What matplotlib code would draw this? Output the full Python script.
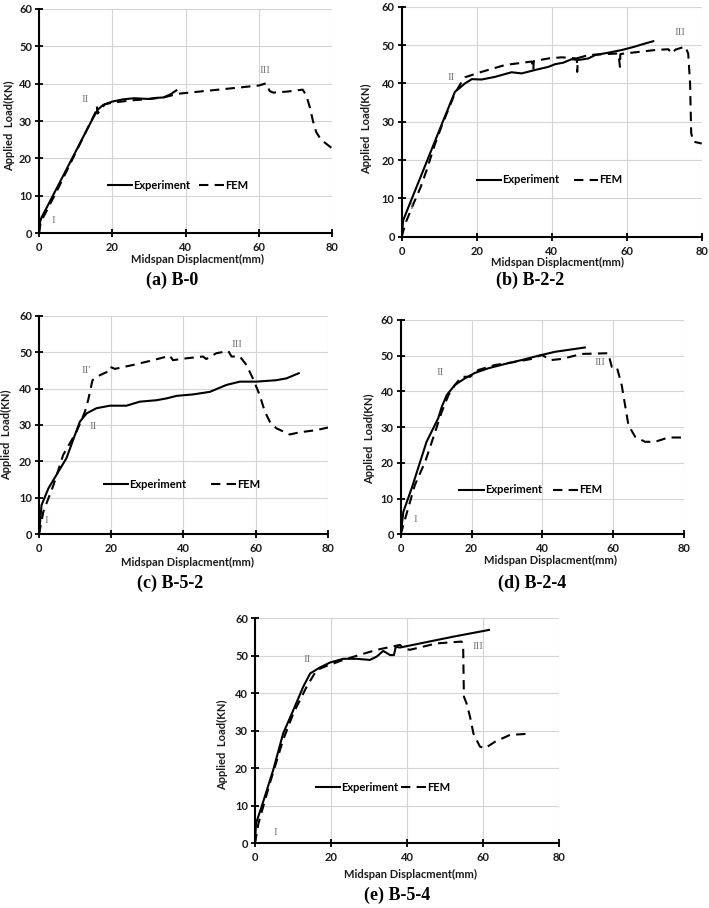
import matplotlib
matplotlib.use("Agg")
import matplotlib.pyplot as plt

# ---- data (mm, kN) ----
b0_exp_x = [0, 0.3, 0.7, 2, 4, 6, 8, 10, 12, 14, 16, 17.5, 20, 23, 26, 30, 32, 34, 36, 37.5]
b0_exp_y = [0, 3, 4.2, 6.6, 10.4, 14.2, 18, 21.8, 25.6, 29.4, 33, 34.3, 35.2, 35.8, 36.1, 35.9, 36.2, 36.3, 37.2, 38.2]
b0_fem_x = [0, 0.5, 2, 5, 10, 14, 15.5, 15.8, 16, 18, 20, 25, 30, 34, 38, 40, 50, 60, 62, 63, 64,
            68, 72, 73, 74, 74.8, 75.7, 77, 80]
b0_fem_y = [0, 3, 5.8, 11.5, 21.5, 29.5, 32.5, 34, 32, 34.5, 34.9, 35.5, 35.9, 36.3, 37.3, 37.5, 38.5, 39.5, 40.1, 38, 37.6,
            37.9, 38.4, 36.8, 33.5, 30, 27, 25, 22.7]

b22_exp_x = [0, 0.4, 2.2, 5, 8, 11, 14.2, 16.9, 18.7, 21.3, 24.9, 29.3, 32, 35.6, 39.1, 40.9, 43.1, 45.3, 47.1,
             49.8, 51.6, 55.1, 58.7, 62.2, 64.9, 67.1]
b22_exp_y = [0, 4.3, 8.7, 15.5, 22.8, 30.1, 37.8, 40, 41.1, 41, 41.7, 42.9, 42.6, 43.5, 44.3, 45, 45.4, 46.3, 46.1,
             46.5, 47.4, 48, 48.7, 49.6, 50.4, 51]
b22_fem_x = [0, 1, 3.1, 5, 6.7, 8, 9, 10.7, 14.2, 16, 16.9, 21.3, 27.6, 34.7, 35.1, 35.2, 39.1, 42.7, 46.7,
             46.8, 47, 49.8, 57.8, 58.2, 58.3, 58.7, 67.6, 71.1, 72, 73, 75.6, 76.4, 76.9, 77.2, 77.8, 80]
b22_fem_y = [0, 3.5, 8.5, 12.8, 17.5, 21.5, 24.5, 29, 37.4, 40.4, 41.6, 43, 44.8, 45.7, 43.5, 45.8, 46.5, 46.8, 46.5,
             43, 46.6, 47.4, 47.8, 44.3, 47.6, 47.7, 48.7, 48.9, 47.8, 48.8, 49.6, 47.8, 40, 27, 24.8, 24.3]

b52_exp_x = [0, 0.7, 2.6, 7.6, 11.3, 13.2, 15.9, 19.6, 24.2, 27.9, 32.5, 35.3, 38.1, 42.7, 47.3, 51.9, 55.6, 60.2,
             65.7, 68.5, 71.9]
b52_exp_y = [0, 8, 12.6, 20.9, 30.9, 33.2, 34.6, 35.3, 35.3, 36.4, 36.8, 37.3, 38, 38.4, 39.1, 41, 41.9, 41.9,
             42.3, 42.8, 44.2]
b52_fem_x = [0, 1.2, 4, 6.7, 10.4, 12.7, 13.6, 14.8, 16.9, 18.7, 19.6, 21, 26.1, 31.6, 36.2, 37.1, 40.8, 45.4, 46.3,
             49.1, 52.4, 53.3, 55.6, 57.4, 59.2, 61.1, 62.5, 63.9, 65.7, 69.4, 72.2, 76.8, 80]
b52_fem_y = [0, 6.2, 13.5, 21.8, 28.2, 33.6, 36.8, 42.3, 43.7, 44.5, 46, 45.4, 46.5, 47.8, 49, 47.8, 48.3, 48.8, 48.1,
             49.7, 50.3, 48.8, 48.8, 46.5, 42.8, 38.2, 33.7, 30.9, 29.1, 27.4, 28, 28.6, 29.3]

b24_exp_x = [0, 0.75, 3.1, 7.3, 10.6, 11.6, 13, 15.3, 18.2, 21, 24.8, 29.5, 34.2, 38.9, 43.6, 52]
b24_exp_y = [0, 6.3, 12.9, 25.9, 32.5, 35.7, 39, 41.8, 43.7, 45.2, 46.5, 47.7, 48.8, 50, 51.1, 52.3]
b24_fem_x = [0, 0.75, 4, 6.9, 8.8, 11.6, 13.5, 15.3, 17.2, 19.6, 21.9, 26.6, 31.3, 37, 39.8, 42.6, 45.5, 51.1, 58.6,
             59.6, 61, 62.4, 64.3, 66.2, 69, 71.8, 75.6, 79.8]
b24_fem_y = [0, 2.6, 13.8, 20.3, 25.9, 34.3, 39, 41.8, 44.1, 44.1, 46, 47.4, 48.1, 49.1, 50.2, 48.8, 49.1, 50.5, 50.7,
             46.9, 46.9, 41.8, 30.6, 27.3, 25.9, 25.9, 27.1, 27.1]

b54_exp_x = [0, 0.26, 1.75, 4.8, 7.4, 10.1, 12.7, 14.5, 17.1, 19.7, 23.2, 26.7, 30.2, 32, 33.7, 35.5, 36.5, 37,
             38.1, 43.4, 52.1, 61.5]
b54_exp_y = [0, 5.3, 9.8, 19.6, 29.3, 35.6, 41.8, 45.3, 46.9, 48.2, 49.2, 49.2, 48.9, 49.8, 51.3, 50.2, 50.2, 52.4,
             52.2, 53.3, 55.1, 56.9]
b54_fem_x = [0, 0.9, 3.9, 7.4, 10.1, 13.6, 16.2, 18.8, 23.2, 26.7, 32, 38.1, 39, 40.7, 47.7, 54.3, 54.7, 54.9, 55.6,
             56.5, 57.4, 59.1, 60.4, 63.1, 67, 71.8]
b54_fem_y = [0, 5.3, 16, 27.6, 34.7, 41.8, 46.2, 47.3, 48.9, 50, 51.6, 52.9, 52, 51.6, 53.3, 53.8, 52.9, 39.1, 37.3,
             33.8, 29.3, 25.8, 25.3, 27.1, 28.9, 29.2]

x_ticks = [0, 20, 40, 60, 80]
y_ticks = [0, 10, 20, 30, 40, 50, 60]

FIG_W, FIG_H = 709, 908
SANS = "Lato"
SERIF = "Liberation Serif"
FS = 8


def px_box(left, right, top, bottom):
    # pixel box of the plotting area -> figure fractions
    return [left / FIG_W, 1 - bottom / FIG_H, (right - left) / FIG_W, (bottom - top) / FIG_H]


def draw_panel(fig, box, exp, fem, marks, leg_xy, colspace, ylab_xy, xlab_xy, caption, cap_px):
    ax = fig.add_axes(box)
    ax.plot(exp[0], exp[1], color="black", lw=1.5, label="Experiment", zorder=3)
    ax.plot(fem[0], fem[1], color="black", lw=1.5, ls=(0, (4.5, 3)), label="FEM", zorder=3)

    ax.set_xlim(0, 80)
    ax.set_ylim(0, 60)
    ax.set_xticks(x_ticks)
    ax.set_yticks(y_ticks)
    ax.grid(True, color="#d4d4d4", lw=0.8, zorder=0)
    ax.set_axisbelow(True)
    for s in ["top", "right"]:
        ax.spines[s].set_visible(False)
    for s in ["left", "bottom"]:
        ax.spines[s].set_linewidth(1.5)
    ax.tick_params(direction="inout", length=6, width=1.3, labelsize=FS, colors="black")
    ax.tick_params(axis="x", pad=3.5)
    ax.tick_params(axis="y", pad=2)
    for lab in ax.get_xticklabels() + ax.get_yticklabels():
        lab.set_fontfamily(SANS)
        lab.set_fontweight("bold")
        lab.set_color("#1a1a1a")

    ax.text(ylab_xy[0], ylab_xy[1], "Applied  Load(KN)", rotation=90, transform=ax.transAxes,
            ha="center", va="center", fontsize=FS, fontweight="bold", family=SANS, color="#1a1a1a")
    ax.text(xlab_xy[0], xlab_xy[1], "Midspan Displacment(mm)", transform=ax.transAxes,
            ha="center", va="center", fontsize=FS, fontweight="bold", family=SANS, color="#1a1a1a")

    for txt, mx, my in marks:
        ax.text(mx, my, txt, ha="center", va="center", fontsize=8, family=SERIF, color="#7a7a7a")

    ax.legend(loc="center left", bbox_to_anchor=leg_xy, ncol=2, frameon=False, borderpad=0,
              borderaxespad=0, handlelength=2.2, handletextpad=0.1, columnspacing=colspace,
              prop={"family": SANS, "weight": "bold", "size": FS})

    fig.text(cap_px[0] / FIG_W, 1 - cap_px[1] / FIG_H, caption, ha="center", va="center",
             fontsize=13, fontweight="bold", family=SERIF)
    return ax


def main():
    fig = plt.figure(figsize=(FIG_W / 100, FIG_H / 100), dpi=100)

    draw_panel(fig, px_box(39, 332, 9, 233), (b0_exp_x, b0_exp_y), (b0_fem_x, b0_fem_y),
               [("I", 3.9, 3.3), ("II", 12.7, 35.7), ("III", 61.6, 43.4)],
               (0.235, 0.214), 0.8, (-0.101, 0.48), (0.54, -0.118), "(a) B-0", (172, 280))

    draw_panel(fig, px_box(401.7, 701.7, 6.7, 236.7), (b22_exp_x, b22_exp_y), (b22_fem_x, b22_fem_y),
               [("I", 2.7, 8), ("II", 13.1, 41.6), ("III", 74.2, 53.3)],
               (0.25, 0.247), 1.3, (-0.118, 0.468), (0.52, -0.11), "(b) B-2-2", (530, 280))

    draw_panel(fig, px_box(39, 328, 315.7, 534.3), (b52_exp_x, b52_exp_y), (b52_fem_x, b52_fem_y),
               [("I", 2.1, 3.9), ("II", 15, 29.5), ("II'", 13, 44.9), ("III", 54.9, 52)],
               (0.225, 0.23), 2.2, (-0.112, 0.457), (0.515, -0.13), "(c) B-5-2", (170, 583))

    draw_panel(fig, px_box(400.7, 684, 320, 534.3), (b24_exp_x, b24_exp_y), (b24_fem_x, b24_fem_y),
               [("I", 4.2, 4.2), ("II", 11.1, 45.3), ("III", 56.3, 48.1)],
               (0.207, 0.207), 1.0, (-0.11, 0.445), (0.53, -0.12), "(d) B-2-4", (532, 583))

    draw_panel(fig, px_box(255, 559.4, 618.3, 843.3), (b54_exp_x, b54_exp_y), (b54_fem_x, b54_fem_y),
               [("I", 5.3, 2.9), ("II", 13.8, 48.9), ("III", 58.7, 52.4)],
               (0.2, 0.249), 0.25, (-0.106, 0.437), (0.51, -0.14), "(e) B-5-4", (397, 895))

    fig.savefig("out.png", dpi=100)


if __name__ == "__main__":
    main()
